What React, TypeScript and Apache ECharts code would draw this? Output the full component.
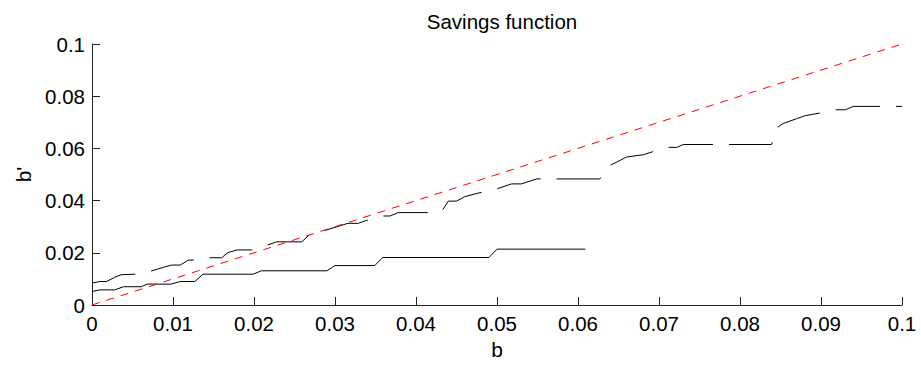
import React, { useEffect, useRef } from "react";
import * as echarts from "echarts";

const titleText = "Savings function";
const xName = "b";
const yName = "b'";
const xTicks = [0, 0.01, 0.02, 0.03, 0.04, 0.05, 0.06, 0.07, 0.08, 0.09, 0.1];
const yTicks = [0, 0.02, 0.04, 0.06, 0.08, 0.1];

const lowerB = [0, 0.001, 0.0028, 0.0039, 0.0061, 0.0068, 0.0098, 0.0109, 0.0127, 0.0137, 0.0199, 0.0209, 0.029, 0.03, 0.0349, 0.0359, 0.049, 0.05, 0.0609];
const lowerV = [0.0052, 0.0058, 0.0058, 0.007, 0.007, 0.008, 0.008, 0.009, 0.009, 0.0118, 0.0118, 0.0131, 0.0131, 0.0151, 0.0151, 0.0182, 0.0182, 0.0214, 0.0214];

const upperB = [0, 0.001, 0.0018, 0.0028, 0.0036, 0.0053, 0.0074, 0.0088, 0.0098, 0.0109, 0.0119, 0.0125, 0.0144, 0.016, 0.0168, 0.0179, 0.0197, 0.0216, 0.0228, 0.0259, 0.0269, 0.0288, 0.0316, 0.0329, 0.0339, 0.0358, 0.0368, 0.0378, 0.0415, 0.0432, 0.044, 0.045, 0.046, 0.0481, 0.05, 0.0518, 0.053, 0.0549, 0.0627, 0.0639, 0.066, 0.0681, 0.0691, 0.071, 0.0722, 0.073, 0.0839, 0.0847, 0.0853, 0.087, 0.088, 0.0898, 0.0917, 0.093, 0.094, 0.1];
const upperV = [0.0084, 0.009, 0.009, 0.0106, 0.0116, 0.0118, 0.0131, 0.0144, 0.0153, 0.0153, 0.0172, 0.0172, 0.0181, 0.0181, 0.0201, 0.0211, 0.0211, 0.0229, 0.0242, 0.0242, 0.0271, 0.0286, 0.0313, 0.0313, 0.0324, 0.0341, 0.0341, 0.0354, 0.0354, 0.036, 0.0398, 0.0398, 0.0415, 0.0432, 0.0445, 0.0464, 0.0464, 0.0483, 0.0483, 0.0534, 0.0567, 0.0576, 0.0586, 0.0604, 0.0604, 0.0615, 0.0615, 0.0682, 0.0695, 0.0714, 0.0725, 0.0735, 0.0748, 0.0748, 0.0761, 0.0761];

const diagB = [0, 0.1];
const diagV = [0, 0.1];

const zip = (a: number[], b: number[]) => a.map((v, i) => [v, b[i]]);
const fmt = (v: number) => {
  const r = Math.round(v * 1000) / 1000;
  return r === 0 ? "0" : String(r);
};

export default function App() {
  const ref = useRef<HTMLDivElement>(null);
  useEffect(() => {
    if (!ref.current) return;
    const chart = echarts.init(ref.current, null, { renderer: "svg" });
    const font = "'Liberation Sans', Arial, sans-serif";
    const axisCommon = {
      type: "value" as const,
      min: 0,
      max: 0.1,
      axisLine: { show: true, onZero: false, lineStyle: { color: "#222", width: 1 } },
      axisTick: { show: true, inside: true, length: 8, lineStyle: { color: "#222", width: 1 } },
      splitLine: { show: false },
      nameLocation: "middle" as const,
      nameTextStyle: { color: "#000", fontSize: 21, fontFamily: font },
    };
    chart.setOption({
      animation: false,
      backgroundColor: "#fff",
      title: {
        text: titleText,
        left: 497,
        textAlign: "center",
        top: 6,
        textStyle: { color: "#000", fontSize: 20.5, fontWeight: "normal", fontFamily: font },
      },
      grid: { left: 92, right: 19, top: 44, bottom: 59, containLabel: false },
      xAxis: {
        ...axisCommon,
        interval: 0.01,
        name: xName,
        nameGap: 34,
        axisLabel: {
          color: "#000",
          fontSize: 20.5,
          fontFamily: font,
          margin: 8,
          customValues: xTicks,
          formatter: (v: number) => fmt(v),
        },
        axisTick: { ...axisCommon.axisTick, customValues: xTicks },
      },
      yAxis: {
        ...axisCommon,
        interval: 0.02,
        name: yName,
        nameGap: 56,
        axisLabel: {
          color: "#000",
          fontSize: 20.5,
          fontFamily: font,
          margin: 7,
          customValues: yTicks,
          formatter: (v: number) => fmt(v),
        },
        axisTick: { ...axisCommon.axisTick, customValues: yTicks },
      },
      series: [
        {
          type: "line",
          data: zip(lowerB, lowerV),
          showSymbol: false,
          lineStyle: { color: "#000", width: 1 },
        },
        {
          type: "line",
          data: zip(upperB, upperV),
          showSymbol: false,
          lineStyle: { color: "#000", width: 1, type: [45, 16] },
        },
        {
          type: "line",
          data: zip(diagB, diagV),
          showSymbol: false,
          lineStyle: { color: "#ff0000", width: 1, type: [8, 7] },
        },
      ],
    });
    return () => chart.dispose();
  }, []);
  return <div ref={ref} style={{ width: 921, height: 365, position: "absolute", left: 0, top: 0 }} />;
}
